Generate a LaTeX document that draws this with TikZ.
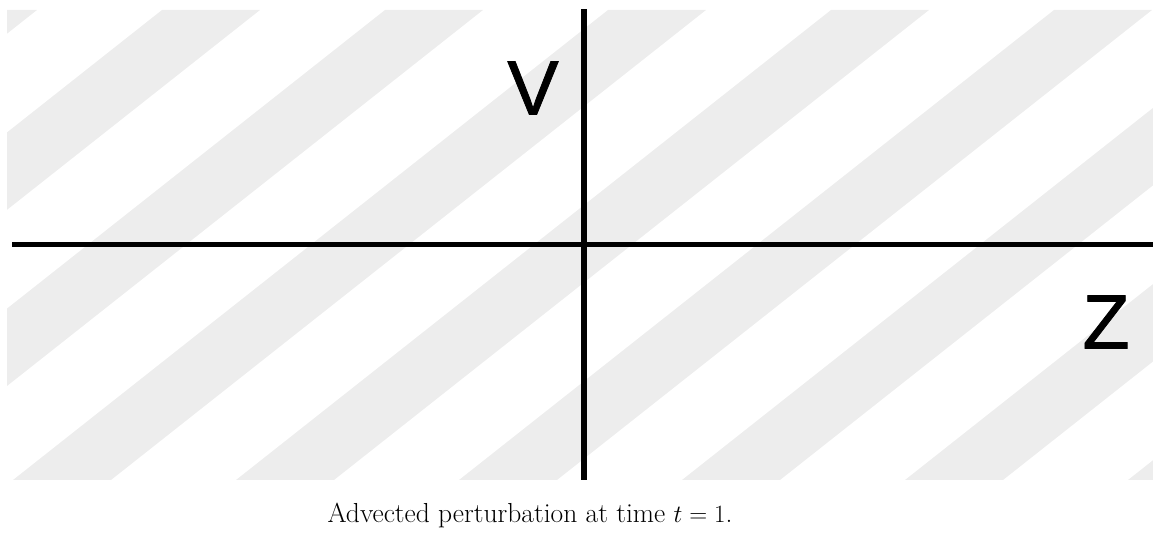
\documentclass[tikz,border=0pt]{standalone}
\usepackage{fontspec}
\newfontfamily\axisfont[FakeBold=1]{Liberation Sans}
\usepackage{tikz}
\usetikzlibrary{positioning}
\usepackage{xcolor}
\definecolor{stripegray}{RGB}{237,237,237}

\begin{document}
\begin{tikzpicture}[x=1pt,y=1pt,
    stripe/.style={fill=stripegray,draw=none},
    axisline/.style={draw=black,line width=5.5pt},
    axislabel/.style={inner sep=0pt,font=\axisfont\fontsize{77}{80}\selectfont}]
  \useasboundingbox (0,0) rectangle (1153,534);
  % advected stripes, clipped to the plot window
  \begin{scope}
    \clip (7,54) rectangle (1153,524);
    \foreach \k in {-3,...,5} {
      \fill[stripe] (13+223*\k,54) -- (111+223*\k,54) -- (706+223*\k,524) -- (608+223*\k,524) -- cycle;
    }
  \end{scope}
  % axes
  \coordinate (zleft) at (12,289.5);
  \coordinate (zright) at (1153,289.5);
  \coordinate (vtop) at (584,524.5);
  \coordinate (vbottom) at (584,54);
  \draw[axisline] (zleft) -- (zright);
  \draw[axisline] (vtop) -- (vbottom);
  \node[axislabel] (vlabel) at (533,446) {V};
  \node[axislabel] (zlabel) at (1106,212) {Z};
  \node[anchor=base,inner sep=0pt,font=\fontsize{27.5}{32}\selectfont] (caption) at (530,11) {Advected perturbation at time $t = 1$.};
\end{tikzpicture}
\end{document}
